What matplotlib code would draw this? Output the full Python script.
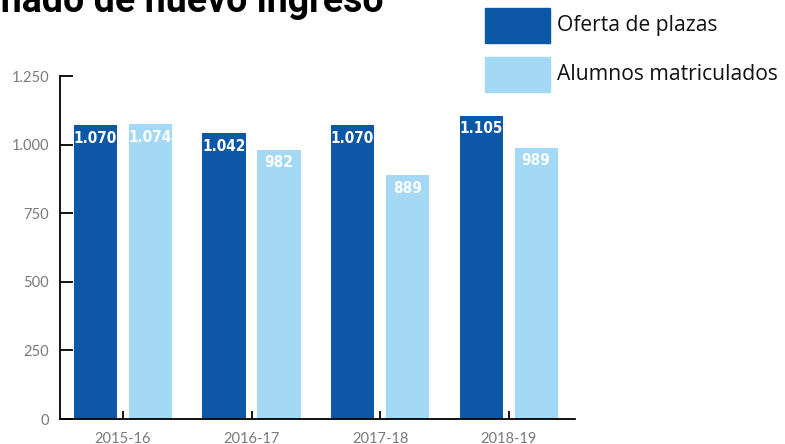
import matplotlib
matplotlib.use("Agg")
import matplotlib.pyplot as plt
from matplotlib.patches import Rectangle

# datos
cursos = ["2015-16", "2016-17", "2017-18", "2018-19"]
oferta = [1070, 1042, 1070, 1105]
matriculados = [1074, 982, 889, 989]
etiquetas_oferta = ["1.070", "1.042", "1.070", "1.105"]
etiquetas_matric = ["1.074", "982", "889", "989"]
y_ticks = [0, 250, 500, 750, 1000, 1250]
y_labels = ["0", "250", "500", "750", "1.000", "1.250"]

azul = "#0D58A6"
celeste = "#A3D9F5"
W, H = 785, 444

fig = plt.figure(figsize=(W / 100, H / 100), dpi=100)
ax = fig.add_axes([60 / W, 25 / H, 515 / W, 343 / H])

x = range(len(cursos))
ancho = 0.335
off = 0.214
ax.bar([i - off for i in x], oferta, width=ancho, color=azul)
ax.bar([i + off for i in x], matriculados, width=ancho, color=celeste)

# etiquetas dentro de la barra
for i in x:
    ax.annotate(etiquetas_oferta[i], (i - off, oferta[i]), xytext=(0, -4),
                textcoords="offset points", ha="center", va="top",
                color="white", fontsize=11, fontweight="bold",
                fontfamily="DejaVu Sans", fontstretch="condensed")
    ax.annotate(etiquetas_matric[i], (i + off, matriculados[i]), xytext=(0, -4),
                textcoords="offset points", ha="center", va="top",
                color="white", fontsize=11, fontweight="bold",
                fontfamily="DejaVu Sans", fontstretch="condensed")

ax.set_xlim(-0.49, 3.517)
ax.set_ylim(0, 1250)
ax.set_yticks(y_ticks)
ax.set_yticklabels(y_labels)
ax.set_xticks(list(x))
ax.set_xticklabels(cursos)
ax.tick_params(axis="y", direction="in", length=9, width=1.3, pad=8,
               labelsize=10.5, labelcolor="#7a7a7a")
ax.tick_params(axis="x", direction="in", length=6, width=1.3, pad=9,
               labelsize=10.5, labelcolor="#7a7a7a")
for lab in ax.get_xticklabels() + ax.get_yticklabels():
    lab.set_fontfamily("Lato")
ax.spines["top"].set_visible(False)
ax.spines["right"].set_visible(False)
ax.spines["left"].set_linewidth(1.3)
ax.spines["bottom"].set_linewidth(1.3)

# leyenda
fig.patches.append(Rectangle((485 / W, 1 - 43 / H), 65 / W, 35 / H,
                             transform=fig.transFigure, color=azul))
fig.patches.append(Rectangle((485 / W, 1 - 92 / H), 65 / W, 35 / H,
                             transform=fig.transFigure, color=celeste))
fig.text(557 / W, 1 - 26 / H, "Oferta de plazas", fontsize=15.2,
         fontfamily="Open Sans", va="center", color="#111111")
fig.text(557 / W, 1 - 75 / H, "Alumnos matriculados", fontsize=15.2,
         fontfamily="Open Sans", va="center", color="#111111")

# titulo (cortado arriba)
fig.text(384 / W, 1 - 12 / H, "Alumnado de nuevo ingreso", fontsize=27,
         fontweight="bold", fontfamily="Roboto", ha="right", va="baseline")

fig.savefig("out.png", dpi=100)
